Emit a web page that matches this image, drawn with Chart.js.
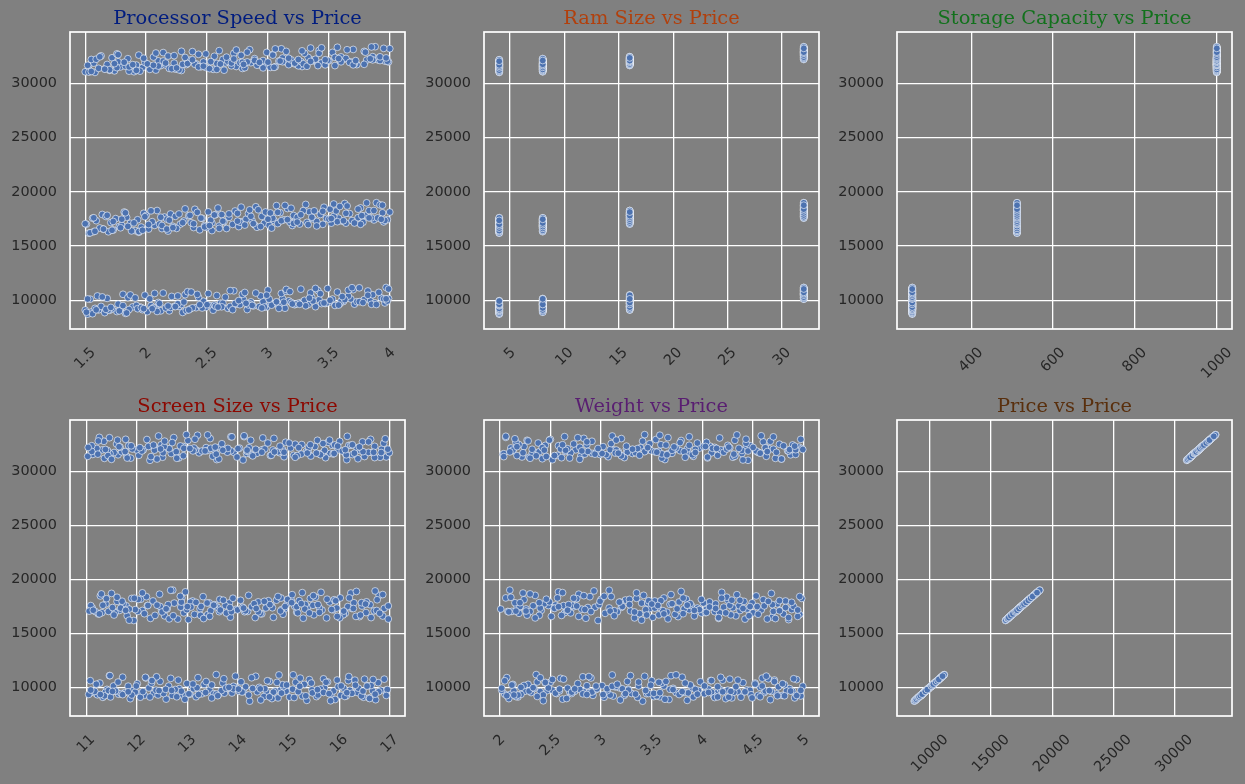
<!DOCTYPE html>
<html>
<head>
<meta charset="utf-8">
<script src="https://cdn.jsdelivr.net/npm/chart.js@4.4.1/dist/chart.umd.min.js"></script>
<style>
html,body{margin:0;padding:0;background:#808080;width:1245px;height:784px;overflow:hidden;}
canvas{position:absolute;}
</style>
</head>
<body>
<script>
// ---------------- DATA ----------------
const processorSpeed = [
1.52,1.61,1.66,1.79,1.83,1.95,2.01,2.08,2.19,2.27,2.30,2.41,2.52,2.55,2.67,2.74,2.83,2.88,2.99,3.06,3.14,3.22,3.28,3.39,3.47,3.55,3.62,3.71,3.84,3.96,
1.55,1.58,1.70,1.76,1.89,1.97,2.04,2.12,2.16,2.29,2.36,2.45,2.49,2.61,2.70,2.77,2.86,2.93,3.02,3.09,3.17,3.25,3.33,3.42,3.50,3.59,3.68,3.77,3.88,3.99,
1.50,1.63,1.72,1.77,1.86,1.92,2.06,2.10,2.23,2.26,2.38,2.47,2.56,2.63,2.69,2.80,2.85,2.96,3.03,3.12,3.19,3.30,3.36,3.44,3.53,3.60,3.66,3.79,3.86,3.93,
1.54,1.60,1.68,1.81,1.85,1.99,2.03,2.14,2.21,2.32,2.34,2.43,2.51,2.58,2.72,2.79,2.81,2.94,3.00,3.11,3.15,3.27,3.35,3.41,3.49,3.57,3.70,3.75,3.82,3.97,
1.53,1.65,1.69,1.78,1.91,1.94,2.07,2.13,2.18,2.28,2.39,2.44,2.54,2.60,2.66,2.78,2.89,2.91,3.05,3.08,3.20,3.23,3.32,3.45,3.48,3.61,3.64,3.74,3.87,3.95,
1.57,1.62,1.73,1.80,1.88,1.96,2.02,2.11,2.22,2.25,2.37,2.48,2.50,2.64,2.71,2.76,2.87,2.97,3.01,3.13,3.18,3.26,3.37,3.40,3.52,3.58,3.69,3.78,3.85,3.98,
1.51,1.59,1.71,1.75,1.87,1.93,2.05,2.15,2.17,2.31,2.35,2.46,2.53,2.62,2.68,2.82,2.84,2.95,3.04,3.10,3.21,3.24,3.34,3.43,3.54,3.56,3.67,3.80,3.83,3.94,
1.56,1.64,1.67,1.82,1.84,1.98,2.00,2.09,2.20,2.24,2.40,2.42,2.57,2.59,2.73,2.75,2.90,2.92,2.98,3.07,3.16,3.29,3.31,3.46,3.51,3.63,3.65,3.76,3.89,3.92,
1.58,1.66,1.74,1.79,1.90,1.95,2.08,2.12,2.24,2.29,2.33,2.49,2.55,2.61,2.74,2.79,2.86,2.98,3.02,3.14,3.17,3.28,3.38,3.41,3.55,3.59,3.72,3.73,3.90,3.99,
1.50,1.61,1.70,1.83,1.86,1.97,2.03,2.16,2.19,2.27,2.41,2.45,2.52,2.65,2.70,2.81,2.83,2.93,3.06,3.09,3.22,3.25,3.36,3.44,3.47,3.62,3.68,3.71,3.84,3.96,
1.53,1.57,1.68,1.77,1.92,1.99,2.01,2.10,2.23,2.30,2.36,2.47,2.58,2.63,2.67,2.77,2.89,2.96,3.00,3.12,3.19,3.27,3.33,3.39,3.50,3.60,3.64,3.81,3.86,3.91,
1.55,1.63,1.72,1.76,1.85,1.94,2.06,2.14,2.18,2.32,2.38,2.43,2.56,2.60,2.72,2.78,2.85,2.99,3.04,3.11,3.15,3.30,3.35,3.42,3.53,3.57,3.70,3.79,3.88,4.00,
1.56,1.69,1.84,1.93,2.09,2.20,2.33,2.46,2.57,2.71,2.84,2.97,3.09,3.23,3.31,3.48,3.58,3.73,3.85,3.98,
1.51,1.67,1.78,1.96,2.05,2.18,2.35,2.44,2.62,2.73,2.87,2.95,3.13,3.20,3.37,3.46,3.63,3.75,3.89,3.95,
1.59,1.71,1.81,1.98,2.11,2.24,2.31,2.50,2.59,2.76,2.82,3.01,3.07,3.26,3.34,3.51,3.61,3.78,3.82,3.97,
1.52,1.64,1.87,1.91,2.07,2.26,2.37,2.42,2.65,2.69,2.90,2.99,3.15,3.18,3.39,3.43,3.66,3.69,3.91,3.99,
1.54,1.72,1.79,1.94,2.13,2.17,2.39,2.48,2.54,2.77,2.81,3.03,3.11,3.21,3.40,3.50,3.57,3.76,3.83,3.96,
1.58,1.65,1.85,1.97,2.02,2.22,2.30,2.52,2.60,2.75,2.88,2.94,3.16,3.24,3.33,3.52,3.62,3.71,3.90,3.93,
1.50,1.73,1.80,1.90,2.12,2.19,2.36,2.45,2.63,2.68,2.86,3.00,3.08,3.27,3.36,3.45,3.64,3.77,3.87,4.00,
1.57,1.68,1.83,1.99,2.04,2.27,2.32,2.51,2.56,2.78,2.85,3.02,3.14,3.19,3.38,3.54,3.59,3.74,3.81,3.94,
1.53,1.70,1.76,1.95,2.10,2.21,2.40,2.43,2.64,2.70,2.91,2.96,3.12,3.29,3.32,3.49,3.67,3.70,3.86,3.98,
1.55,1.66,1.86,1.92,2.06,2.25,2.34,2.47,2.58,2.79,2.80,3.05,3.10,3.22,3.41,3.47,3.60,3.79,3.84,3.92,
1.52,1.74,1.82,1.89,2.14,2.16,2.38,2.53,2.61,2.72,2.89,2.93,3.17,3.25,3.35,3.55,3.58,3.72,3.92,3.97,
1.59,1.62,1.77,1.98,2.08,2.23,2.29,2.49,2.66,2.74,2.83,3.04,3.06,3.28,3.42,3.44,3.65,3.80,3.85,3.95
];

const ramSize = [
4,4,4,4,4,4,4,4,4,4,4,4,4,4,4,4,4,4,4,4,4,4,4,4,4,4,4,4,4,4,
8,8,8,8,8,8,8,8,8,8,8,8,8,8,8,8,8,8,8,8,8,8,8,8,8,8,8,8,8,8,
16,16,16,16,16,16,16,16,16,16,16,16,16,16,16,16,16,16,16,16,16,16,16,16,16,16,16,16,16,16,
32,32,32,32,32,32,32,32,32,32,32,32,32,32,32,32,32,32,32,32,32,32,32,32,32,32,32,32,32,32,
4,4,4,4,4,4,4,4,4,4,4,4,4,4,4,4,4,4,4,4,4,4,4,4,4,4,4,4,4,4,
8,8,8,8,8,8,8,8,8,8,8,8,8,8,8,8,8,8,8,8,8,8,8,8,8,8,8,8,8,8,
16,16,16,16,16,16,16,16,16,16,16,16,16,16,16,16,16,16,16,16,16,16,16,16,16,16,16,16,16,16,
32,32,32,32,32,32,32,32,32,32,32,32,32,32,32,32,32,32,32,32,32,32,32,32,32,32,32,32,32,32,
4,4,4,4,4,4,4,4,4,4,4,4,4,4,4,4,4,4,4,4,4,4,4,4,4,4,4,4,4,4,
8,8,8,8,8,8,8,8,8,8,8,8,8,8,8,8,8,8,8,8,8,8,8,8,8,8,8,8,8,8,
16,16,16,16,16,16,16,16,16,16,16,16,16,16,16,16,16,16,16,16,16,16,16,16,16,16,16,16,16,16,
32,32,32,32,32,32,32,32,32,32,32,32,32,32,32,32,32,32,32,32,32,32,32,32,32,32,32,32,32,32,
4,4,4,4,4,4,4,4,4,4,4,4,4,4,4,4,4,4,4,4,
8,8,8,8,8,8,8,8,8,8,8,8,8,8,8,8,8,8,8,8,
16,16,16,16,16,16,16,16,16,16,16,16,16,16,16,16,16,16,16,16,
32,32,32,32,32,32,32,32,32,32,32,32,32,32,32,32,32,32,32,32,
4,4,4,4,4,4,4,4,4,4,4,4,4,4,4,4,4,4,4,4,
8,8,8,8,8,8,8,8,8,8,8,8,8,8,8,8,8,8,8,8,
16,16,16,16,16,16,16,16,16,16,16,16,16,16,16,16,16,16,16,16,
32,32,32,32,32,32,32,32,32,32,32,32,32,32,32,32,32,32,32,32,
4,4,4,4,4,4,4,4,4,4,4,4,4,4,4,4,4,4,4,4,
8,8,8,8,8,8,8,8,8,8,8,8,8,8,8,8,8,8,8,8,
16,16,16,16,16,16,16,16,16,16,16,16,16,16,16,16,16,16,16,16,
32,32,32,32,32,32,32,32,32,32,32,32,32,32,32,32,32,32,32,32
];

const storageCapacity = [
256,256,256,256,256,256,256,256,256,256,256,256,256,256,256,256,256,256,256,256,256,256,256,256,256,256,256,256,256,256,
256,256,256,256,256,256,256,256,256,256,256,256,256,256,256,256,256,256,256,256,256,256,256,256,256,256,256,256,256,256,
256,256,256,256,256,256,256,256,256,256,256,256,256,256,256,256,256,256,256,256,256,256,256,256,256,256,256,256,256,256,
256,256,256,256,256,256,256,256,256,256,256,256,256,256,256,256,256,256,256,256,256,256,256,256,256,256,256,256,256,256,
512,512,512,512,512,512,512,512,512,512,512,512,512,512,512,512,512,512,512,512,512,512,512,512,512,512,512,512,512,512,
512,512,512,512,512,512,512,512,512,512,512,512,512,512,512,512,512,512,512,512,512,512,512,512,512,512,512,512,512,512,
512,512,512,512,512,512,512,512,512,512,512,512,512,512,512,512,512,512,512,512,512,512,512,512,512,512,512,512,512,512,
512,512,512,512,512,512,512,512,512,512,512,512,512,512,512,512,512,512,512,512,512,512,512,512,512,512,512,512,512,512,
1000,1000,1000,1000,1000,1000,1000,1000,1000,1000,1000,1000,1000,1000,1000,1000,1000,1000,1000,1000,1000,1000,1000,1000,1000,1000,1000,1000,1000,1000,
1000,1000,1000,1000,1000,1000,1000,1000,1000,1000,1000,1000,1000,1000,1000,1000,1000,1000,1000,1000,1000,1000,1000,1000,1000,1000,1000,1000,1000,1000,
1000,1000,1000,1000,1000,1000,1000,1000,1000,1000,1000,1000,1000,1000,1000,1000,1000,1000,1000,1000,1000,1000,1000,1000,1000,1000,1000,1000,1000,1000,
1000,1000,1000,1000,1000,1000,1000,1000,1000,1000,1000,1000,1000,1000,1000,1000,1000,1000,1000,1000,1000,1000,1000,1000,1000,1000,1000,1000,1000,1000,
256,256,256,256,256,256,256,256,256,256,256,256,256,256,256,256,256,256,256,256,
256,256,256,256,256,256,256,256,256,256,256,256,256,256,256,256,256,256,256,256,
256,256,256,256,256,256,256,256,256,256,256,256,256,256,256,256,256,256,256,256,
256,256,256,256,256,256,256,256,256,256,256,256,256,256,256,256,256,256,256,256,
512,512,512,512,512,512,512,512,512,512,512,512,512,512,512,512,512,512,512,512,
512,512,512,512,512,512,512,512,512,512,512,512,512,512,512,512,512,512,512,512,
512,512,512,512,512,512,512,512,512,512,512,512,512,512,512,512,512,512,512,512,
512,512,512,512,512,512,512,512,512,512,512,512,512,512,512,512,512,512,512,512,
1000,1000,1000,1000,1000,1000,1000,1000,1000,1000,1000,1000,1000,1000,1000,1000,1000,1000,1000,1000,
1000,1000,1000,1000,1000,1000,1000,1000,1000,1000,1000,1000,1000,1000,1000,1000,1000,1000,1000,1000,
1000,1000,1000,1000,1000,1000,1000,1000,1000,1000,1000,1000,1000,1000,1000,1000,1000,1000,1000,1000,
1000,1000,1000,1000,1000,1000,1000,1000,1000,1000,1000,1000,1000,1000,1000,1000,1000,1000,1000,1000
];

const screenSize = [
14.23,11.48,16.72,12.91,15.36,13.05,11.87,16.14,14.79,12.33,15.92,13.61,11.15,16.48,12.70,14.02,15.55,13.88,11.64,16.91,12.15,14.56,15.08,13.29,11.92,16.27,12.84,14.95,15.71,13.44,
12.58,16.03,11.33,14.67,15.84,13.17,11.76,16.59,12.42,14.11,15.27,13.73,11.05,16.82,12.97,14.38,15.63,13.52,11.59,16.36,12.24,14.84,15.19,13.94,11.41,16.66,12.63,14.29,15.46,13.08,
15.02,11.69,16.44,12.88,14.51,13.36,11.22,16.95,12.05,14.73,15.58,13.80,11.97,16.21,12.53,14.15,15.89,13.12,11.38,16.57,12.76,14.42,15.31,13.67,11.83,16.09,12.29,14.90,15.77,13.48,
13.91,11.27,16.63,12.46,14.88,15.14,11.54,16.31,12.99,14.06,15.69,13.33,11.08,16.77,12.18,14.62,15.41,13.70,11.72,16.18,12.67,14.35,15.96,13.21,11.46,16.50,12.39,14.81,15.23,13.57,
11.94,16.40,12.81,14.47,15.75,13.02,11.31,16.86,12.27,14.19,15.50,13.85,11.66,16.12,12.55,14.92,15.16,13.40,11.12,16.69,12.93,14.27,15.88,13.63,11.79,16.25,12.11,14.58,15.37,13.96,
16.97,12.36,14.70,11.57,15.29,13.14,16.33,12.02,14.44,11.81,15.66,13.77,16.08,12.60,14.13,11.24,15.95,13.46,16.53,12.87,14.86,11.44,15.12,13.25,16.74,12.21,14.55,11.97,15.48,13.59,
11.18,15.61,13.99,16.45,12.49,14.09,11.85,15.33,13.27,16.89,12.74,14.66,11.52,15.81,13.54,16.17,12.32,14.97,11.09,15.05,13.83,16.61,12.08,14.40,11.73,15.43,13.10,16.29,12.89,14.76,
13.75,16.54,11.39,14.98,12.62,15.21,13.43,16.02,11.61,14.32,12.19,15.90,13.06,16.79,11.90,14.60,12.45,15.53,13.64,16.23,11.28,14.85,12.96,15.07,13.31,16.71,11.50,14.21,12.71,15.64,
12.26,14.91,16.37,11.63,13.58,15.44,12.83,14.17,16.93,11.36,13.92,15.10,12.51,14.74,16.13,11.80,13.19,15.82,12.04,14.48,16.64,11.13,13.71,15.35,12.68,14.03,16.42,11.55,13.37,15.98,
16.15,13.50,11.88,15.25,12.40,14.64,16.81,13.23,11.03,15.73,12.78,14.26,16.50,13.86,11.47,15.17,12.13,14.82,16.26,13.08,11.70,15.60,12.57,14.39,16.99,13.65,11.32,15.39,12.92,14.53,
14.37,12.10,16.58,13.16,15.67,11.42,14.80,12.64,16.06,13.79,15.04,11.99,14.18,12.35,16.84,13.39,15.52,11.21,14.69,12.86,16.35,13.53,15.86,11.67,14.00,12.48,16.70,13.13,15.26,11.84,
15.40,13.68,11.11,16.46,12.54,14.59,15.91,13.01,11.60,16.19,12.20,14.94,15.13,13.45,11.35,16.88,12.73,14.25,15.78,13.86,11.78,16.01,12.43,14.71,15.57,13.20,11.26,16.62,12.98,14.12,
15.83,12.07,14.45,11.36,16.60,13.22,15.11,11.90,16.25,12.79,14.08,13.57,16.93,11.58,15.47,12.38,14.70,13.91,11.17,16.38,
12.95,16.11,13.48,11.72,15.34,14.86,12.26,16.78,13.03,11.44,15.69,14.21,12.57,16.47,13.76,11.09,15.98,14.53,12.12,16.04,
14.62,11.28,16.15,13.60,12.44,15.80,14.01,11.83,16.71,13.19,12.69,15.22,14.44,11.52,16.32,13.82,12.01,15.57,14.77,11.99,
16.55,13.11,11.63,14.96,12.30,15.45,16.89,13.37,11.20,14.27,12.82,15.74,16.19,13.72,11.47,14.58,12.17,15.09,16.67,13.95,
11.85,14.34,16.42,12.64,15.18,13.44,11.06,14.89,16.01,12.99,15.61,13.26,11.68,14.15,16.80,12.46,15.32,13.87,11.33,14.68,
13.32,15.96,12.15,16.63,14.40,11.55,13.65,15.41,12.72,16.28,14.84,11.26,13.07,15.85,12.50,16.97,14.11,11.78,13.52,15.16,
16.09,12.58,14.93,11.14,15.58,13.84,16.44,12.22,14.36,11.71,15.25,13.00,16.75,12.88,14.63,11.40,15.93,13.39,16.20,12.03,
12.40,15.06,13.71,16.52,11.95,14.52,12.86,15.76,13.17,16.86,11.61,14.05,12.11,15.49,13.90,16.34,11.30,14.79,12.67,15.27,
14.10,16.70,11.43,13.62,15.88,12.28,14.47,16.14,11.81,13.11,15.37,12.92,14.88,16.47,11.23,13.46,15.71,12.52,14.22,16.96,
11.50,13.98,15.63,12.79,16.30,14.29,11.11,13.57,15.13,12.35,16.68,14.66,11.91,13.29,15.90,12.06,16.12,14.91,11.65,13.80,
15.55,11.77,14.18,16.83,12.47,13.35,15.20,11.38,14.72,16.40,12.93,13.70,15.97,11.04,14.35,16.23,12.23,13.05,15.43,11.89,
13.55,16.26,12.70,14.83,11.24,15.68,13.15,16.58,12.33,14.49,11.62,15.01,13.88,16.91,12.55,14.12,11.46,15.81,13.40,16.16
];

const weight = [
3.41,2.18,4.67,2.92,3.85,2.05,4.23,3.12,4.91,2.56,3.67,4.38,2.31,3.03,4.79,2.74,3.52,4.14,2.11,3.96,4.55,2.83,3.27,4.02,2.47,3.74,4.86,2.25,3.18,4.44,
2.62,4.11,3.36,2.09,4.73,3.58,2.88,4.29,3.09,2.40,4.97,3.79,2.21,4.47,3.23,2.69,4.06,3.45,2.14,4.61,3.90,2.52,4.35,3.14,2.79,4.83,3.62,2.34,4.18,3.01,
4.26,2.71,3.55,4.89,2.16,3.83,4.48,2.95,3.30,4.62,2.43,3.71,4.09,2.02,3.47,4.75,2.59,3.21,4.31,2.86,3.93,4.57,2.28,3.06,4.99,2.67,3.60,4.15,2.37,3.88,
3.15,4.52,2.24,3.64,4.81,2.50,3.37,4.20,2.77,3.98,4.65,2.13,3.50,4.40,2.90,3.26,4.93,2.45,3.80,4.08,2.60,3.43,4.71,2.07,3.69,4.27,2.82,3.11,4.59,2.36,
2.97,3.76,4.42,2.27,3.33,4.85,2.64,3.92,4.16,2.08,3.57,4.69,2.41,3.04,4.33,2.81,3.65,4.96,2.19,3.29,4.50,2.73,3.87,4.12,2.33,3.48,4.77,2.55,3.20,4.04,
4.64,2.39,3.51,4.17,2.85,3.73,4.94,2.12,3.38,4.46,2.66,3.99,4.28,2.26,3.16,4.80,2.53,3.61,4.03,2.94,3.44,4.70,2.17,3.82,4.37,2.48,3.08,4.88,2.72,3.56,
2.30,3.95,4.58,2.76,3.13,4.21,2.01,3.68,4.90,2.54,3.40,4.36,2.87,3.77,4.10,2.20,3.53,4.74,2.63,3.24,4.49,2.98,3.84,4.07,2.44,3.35,4.82,2.15,3.62,4.25,
3.89,2.49,4.13,3.28,2.68,4.76,3.46,2.06,4.41,3.70,2.89,4.60,3.19,2.35,4.98,3.59,2.78,4.24,3.00,2.23,4.53,3.81,2.58,4.34,3.10,2.93,4.68,3.42,2.10,4.19,
4.45,3.07,2.42,4.87,3.63,2.80,4.05,3.31,2.22,4.72,3.86,2.57,4.30,3.17,2.03,4.63,3.49,2.91,4.15,3.72,2.37,4.92,3.25,2.65,4.39,3.97,2.13,4.56,3.39,2.75,
2.52,4.32,3.60,2.84,4.78,3.22,2.29,4.09,3.91,2.61,4.54,3.05,2.46,4.84,3.66,2.17,4.22,3.34,2.99,4.66,3.53,2.04,4.43,3.78,2.70,4.95,3.12,2.39,4.01,3.85,
3.70,2.96,4.55,3.09,2.32,4.39,3.82,2.67,4.85,3.26,2.11,4.18,3.57,2.79,4.70,3.44,2.24,4.98,3.15,2.60,4.27,3.93,2.45,4.62,3.36,2.86,4.08,3.74,2.19,4.47,
4.12,3.48,2.58,4.60,3.02,2.38,4.89,3.79,2.73,4.25,3.54,2.16,4.76,3.20,2.91,4.43,3.66,2.27,4.04,3.87,2.50,4.67,3.11,2.83,4.32,3.58,2.06,4.97,3.43,2.64,
2.43,4.38,3.19,4.81,2.66,3.77,4.12,2.18,3.52,4.57,2.91,3.34,4.93,2.29,3.86,4.25,2.71,3.06,4.68,2.02,
3.63,2.37,4.49,3.02,4.74,2.55,3.91,4.20,2.82,3.44,4.06,2.14,3.68,4.87,2.48,3.27,4.33,2.96,3.80,4.59,
4.15,2.86,3.58,2.07,4.66,3.24,2.59,4.42,3.95,2.33,4.97,3.11,2.74,4.28,3.49,2.21,4.79,3.71,2.45,4.02,
2.95,4.52,3.37,2.12,4.09,3.83,2.63,4.71,3.16,2.40,4.35,3.57,2.88,4.90,3.29,2.05,4.18,3.74,2.52,4.63,
3.40,4.85,2.27,3.66,4.23,2.78,3.09,4.55,2.35,3.97,4.04,2.61,3.53,4.76,2.19,3.21,4.44,2.90,3.85,4.30,
4.72,2.51,3.81,4.16,2.09,3.45,4.94,2.70,3.13,4.40,2.26,3.62,4.07,2.84,3.33,4.61,2.40,3.92,4.27,2.58,
2.16,3.75,4.47,2.67,3.28,4.82,2.39,3.56,4.13,2.99,3.88,4.54,2.24,3.18,4.69,2.76,3.47,4.01,2.57,3.99,
3.85,2.20,4.29,3.50,2.73,4.65,3.03,2.46,4.88,3.69,2.11,4.37,3.35,2.83,4.19,3.79,2.30,4.96,3.08,2.62,
4.40,3.23,2.54,4.78,3.60,2.04,4.21,3.90,2.69,4.53,3.14,2.36,4.86,3.43,2.94,4.10,3.70,2.23,4.62,3.31,
2.79,4.05,3.65,2.30,4.57,3.20,2.87,4.31,3.83,2.13,4.73,3.38,2.60,4.45,3.01,2.42,4.92,3.55,2.17,4.14,
3.17,4.64,2.44,3.93,4.24,2.81,3.46,4.99,2.10,3.72,4.36,2.65,3.25,4.50,2.32,3.87,4.03,2.97,3.59,4.80,
4.26,2.62,3.78,4.91,2.28,3.10,4.43,2.86,3.64,4.17,2.49,3.95,4.70,2.15,3.41,4.58,2.77,3.15,4.34,2.06
];

const price = [
8712,9104,8850,9251,8790,9362,8941,9189,9015,9420,8868,9305,9511,9077,9248,9630,9136,9472,9359,9708,9260,9583,9821,9398,9690,9512,9877,9634,9954,9745,
8905,9242,9068,8951,9380,9120,9497,9015,9288,9601,9193,9452,9337,9720,9260,9581,9843,9405,9662,9514,9936,9728,9590,10034,9805,9669,10112,9887,9752,10151,
9088,9421,9206,9635,9137,9512,9304,9789,9425,9661,9289,9902,9553,9718,9420,10045,9664,9861,9540,10143,9795,9987,10268,9685,10101,9912,10376,10053,10495,10214,
10092,10388,10165,10541,10236,10460,10120,10655,10344,10509,10780,10263,10612,10427,10861,10538,10709,10395,10934,10617,10822,11016,10668,10891,11073,10750,10968,11140,10845,11172,
16182,16540,16311,16795,16420,16263,16902,16598,16377,17015,16701,16488,17120,16843,16612,17230,16951,16727,17347,17066,16889,17455,17176,16998,17540,17290,17108,17611,17402,17219,
16318,16655,16472,16901,16390,16743,16560,17022,16815,16619,17138,16877,16702,17246,16990,16788,17331,17094,16912,17410,17185,17023,17498,17265,17105,17566,17342,17190,17588,17420,
17012,17335,17160,17522,17090,17418,17240,17671,17480,17302,17790,17555,17379,17894,17640,17468,17988,17725,17560,18072,17812,17645,18155,17903,17730,18231,17985,17820,18265,18060,
17562,17905,17720,18130,17648,18016,17810,18270,17950,17735,18385,18104,17880,18502,18225,18010,18614,18340,18135,18722,18455,18260,18830,18570,18390,18915,18688,18510,18990,18790,
31012,31340,31155,31520,31078,31405,31230,31640,31320,31190,31735,31470,31295,31822,31560,31380,31910,31650,31472,31998,31730,31555,32070,31820,31640,32135,31905,31730,32180,31980,
31066,31390,31210,31585,31130,31460,31290,31700,31380,31250,31805,31530,31360,31890,31625,31445,31980,31712,31540,32065,31800,31620,32150,31895,31710,32230,31975,31800,32285,32060,
31652,31870,31745,31990,31690,31925,31800,32080,31865,31760,32150,31980,31840,32215,32040,31905,32280,32105,31960,32340,32170,32020,32395,32230,32090,32440,32300,32150,32465,32360,
32205,32540,32360,32720,32275,32610,32430,32840,32520,32390,32930,32680,32500,33020,32770,32590,33110,32860,32680,33190,32950,32770,33260,33040,32860,33330,33130,32950,33385,33200,
8750,9080,8820,9210,8960,9330,9050,9280,9440,9120,9560,9370,9240,9650,9480,9730,9550,9860,9620,9920,
8890,9150,9010,9320,9210,9460,9100,9580,9390,9700,9520,9280,9810,9650,9930,9740,10050,9860,9600,10120,
9110,9330,9500,9220,9690,9410,9830,9580,9360,9960,9710,10090,9850,9620,10190,9990,10330,9780,10450,10120,
10110,10300,10480,10210,10620,10390,10750,10530,10280,10880,10660,10460,10990,10790,11080,10600,10920,11150,10720,11030,
16210,16450,16680,16330,16890,16560,17050,16760,16420,17190,16930,16650,17330,17080,16850,17480,17240,17000,17590,17360,
16360,16560,16810,16450,16980,16690,17150,16880,16620,17290,17060,16790,17430,17200,16970,17530,17330,17120,17590,17460,
17050,17260,17470,17130,17650,17380,17830,17570,17290,17960,17740,17470,18100,17880,17650,18200,18010,17800,18270,18130,
17600,17830,18060,17700,18240,17950,18420,18150,17860,18580,18330,18050,18740,18480,18240,18870,18640,18400,18980,18760,
31040,31260,31450,31130,31600,31350,31760,31520,31220,31880,31680,31430,32000,31810,31580,32120,31930,31710,32170,32040,
31100,31310,31520,31200,31670,31420,31830,31580,31290,31950,31750,31480,32060,31870,31640,32180,31990,31760,32270,32110,
31670,31820,31950,31730,32060,31880,32180,32010,31790,32250,32120,31940,32320,32200,32030,32400,32290,32100,32450,32350,
32230,32450,32650,32320,32800,32560,32960,32720,32420,33080,32880,32610,33180,33000,32780,33280,33100,32880,33360,33230
];

// tick values / labels
const priceTicks = [10000, 15000, 20000, 25000, 30000];
const priceTickLabels = ['10000', '15000', '20000', '25000', '30000'];
const speedTicks = [1.5, 2, 2.5, 3, 3.5, 4];
const speedTickLabels = ['1.5', '2', '2.5', '3', '3.5', '4'];
const ramTicks = [5, 10, 15, 20, 25, 30];
const ramTickLabels = ['5', '10', '15', '20', '25', '30'];
const storageTicks = [400, 600, 800, 1000];
const storageTickLabels = ['400', '600', '800', '1000'];
const screenTicks = [11, 12, 13, 14, 15, 16, 17];
const screenTickLabels = ['11', '12', '13', '14', '15', '16', '17'];
const weightTicks = [2, 2.5, 3, 3.5, 4, 4.5, 5];
const weightTickLabels = ['2', '2.5', '3', '3.5', '4', '4.5', '5'];

const titles = ['Processor Speed vs Price', 'Ram Size vs Price', 'Storage Capacity vs Price',
                'Screen Size vs Price', 'Weight vs Price', 'Price vs Price'];
const titleColors = ['#001c7f', '#b1400d', '#12711c', '#8c0800', '#591e71', '#592f0d'];

// ---------------- LAYOUT ----------------
const TICK_FONT = '14.4px "DejaVu Sans"';
const TITLE_FONT = '19.4px "DejaVu Serif"';
const TEXT_COLOR = '#262626';
const Y_MIN = 7340, Y_MAX = 34740;

const panels = [
  {x: processorSpeed, xmin: 1.375, xmax: 4.125, ticks: speedTicks, labels: speedTickLabels},
  {x: ramSize, xmin: 2.6, xmax: 33.4, ticks: ramTicks, labels: ramTickLabels},
  {x: storageCapacity, xmin: 218.8, xmax: 1037.2, ticks: storageTicks, labels: storageTickLabels},
  {x: screenSize, xmin: 10.68, xmax: 17.3, ticks: screenTicks, labels: screenTickLabels},
  {x: weight, xmin: 1.845, xmax: 5.15, ticks: weightTicks, labels: weightTickLabels},
  {x: price, xmin: 7300, xmax: 34720, ticks: priceTicks, labels: priceTickLabels}
];

const colLeft = [0, 415, 830], colW = 415;
const plotLeft = [70, 484, 897], plotRight = [405, 819, 1232];
const rowTop = [0, 392], rowH = 392;
const plotTop = [32, 420], plotBottom = [329, 716];

const decorPlugin = {
  id: 'decor',
  afterDraw(chart, args, opts) {
    const ctx = chart.ctx, a = chart.chartArea;
    ctx.save();
    ctx.strokeStyle = '#ffffff';
    ctx.lineWidth = 1.7;
    ctx.strokeRect(a.left, a.top, a.right - a.left, a.bottom - a.top);
    ctx.font = TITLE_FONT;
    ctx.fillStyle = opts.color;
    ctx.textAlign = 'center';
    ctx.textBaseline = 'alphabetic';
    ctx.fillText(opts.title, (a.left + a.right) / 2, a.top - 8);
    const xs = chart.scales.x;
    ctx.font = TICK_FONT;
    ctx.fillStyle = TEXT_COLOR;
    const h = 16.8;
    opts.ticks.forEach((v, i) => {
      const lab = opts.labels[i];
      const w = ctx.measureText(lab).width;
      const px = xs.getPixelForValue(v);
      const c = (w + h) / (2 * Math.SQRT2);
      ctx.save();
      ctx.translate(px, a.bottom + 15.5 + c);
      ctx.rotate(-Math.PI / 4);
      ctx.textAlign = 'center';
      ctx.textBaseline = 'middle';
      ctx.fillText(lab, 0, 0);
      ctx.restore();
    });
    ctx.restore();
  }
};

panels.forEach((p, k) => {
  const col = k % 3, row = Math.floor(k / 3);
  const cv = document.createElement('canvas');
  cv.width = colW; cv.height = rowH;
  cv.style.left = colLeft[col] + 'px';
  cv.style.top = rowTop[row] + 'px';
  cv.style.width = colW + 'px';
  cv.style.height = rowH + 'px';
  document.body.appendChild(cv);

  const L = plotLeft[col] - colLeft[col];
  const R = colLeft[col] + colW - plotRight[col];
  const T = plotTop[row] - rowTop[row];
  const B = rowTop[row] + rowH - plotBottom[row];

  const pts = p.x.map((xv, i) => ({x: xv, y: price[i]}));

  new Chart(cv, {
    type: 'scatter',
    data: {
      datasets: [{
        data: pts,
        backgroundColor: '#4c72b0',
        borderColor: 'rgba(255,255,255,0.75)',
        borderWidth: 0.8,
        pointRadius: 3.4,
        pointHoverRadius: 3.4
      }]
    },
    options: {
      responsive: false,
      animation: false,
      devicePixelRatio: 1,
      events: [],
      layout: {padding: {left: 0, right: R, top: T, bottom: 0}},
      plugins: {
        legend: {display: false},
        tooltip: {enabled: false},
        title: {display: false},
        decor: {title: titles[k], color: titleColors[k], ticks: p.ticks, labels: p.labels}
      },
      scales: {
        x: {
          type: 'linear',
          min: p.xmin, max: p.xmax,
          afterBuildTicks: s => { s.ticks = p.ticks.map(v => ({value: v})); },
          afterFit: s => { s.height = B; },
          ticks: {display: false},
          grid: {color: '#ffffff', lineWidth: 1.3, drawTicks: false},
          border: {display: false}
        },
        y: {
          type: 'linear',
          min: Y_MIN, max: Y_MAX,
          afterBuildTicks: s => { s.ticks = priceTicks.map(v => ({value: v})); },
          afterFit: s => { s.width = L; },
          ticks: {
            autoSkip: false,
            padding: 13,
            color: TEXT_COLOR,
            font: {family: 'DejaVu Sans', size: 14.4},
            callback: v => String(v)
          },
          grid: {color: '#ffffff', lineWidth: 1.3, drawTicks: false},
          border: {display: false}
        }
      }
    },
    plugins: [decorPlugin]
  });
});
</script>
</body>
</html>
